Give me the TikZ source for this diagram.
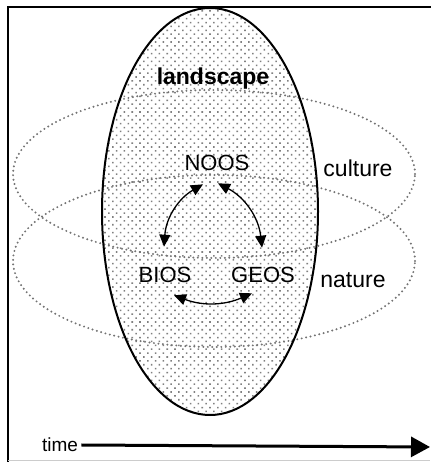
\documentclass[tikz,border=0pt]{standalone}
\usepackage{fontspec}
\setmainfont{Liberation Sans}
\usetikzlibrary{patterns.meta,arrows.meta}

\tikzset{
  sphere/.style={draw=black!55,line width=2.2pt,dash pattern=on 0pt off 4.5pt,line cap=round},
  word/.style={font=\fontsize{23}{27}\selectfont},
  root/.style={font=\fontsize{22}{26}\selectfont},
  link/.style={<->,line width=1.3pt,>={Triangle[length=12pt,width=11pt]}},
}

\begin{document}
\begin{tikzpicture}[x=1pt,y=1pt]
        \useasboundingbox (0,0) rectangle (430,462);
        % landscape body
        \fill [pattern={Dots[distance=5.5pt,angle=45,radius=1.1pt]},pattern color=black!50](210,250.5) ellipse (108 and 203.5);
                % culture and nature rings
                \draw [sphere](214,288) ellipse (201 and 84);
                \draw [sphere](214,201) ellipse (201 and 86);
                \draw [line width=2pt](210,250.5) ellipse (108 and 203.5);

                % frame
                \draw [line width=1.8pt](8,0)--(8,455)--(431,455);
                \draw [gray!40,line width=1pt](8,1)--(430,1);

                \node (landscape) at (213,383) [word]{\bfseries landscape};
                \node (noos) at (217,299) [root]{NOOS};
                \node (bios) at (165,187) [root]{BIOS};
                \node (geos) at (263,187) [root]{GEOS};
                \node (culture) at (358,294) [word]{culture};
                \node (nature) at (353,182) [word]{nature};
                \node (time) at (60,17) [font=\fontsize{19}{23}\selectfont]{time};
                \coordinate (future) at (430,15);

                \draw [link]([shift={(-14,-10)}]noos.south) to[bend right=28] ([shift={(-1,17)}]bios.north);
                \draw [link]([shift={(1,-9)}]noos.south) to[bend left=28] ([shift={(-1,16)}]geos.north);
                \draw [link]([shift={(9,-9)}]bios.south) to[bend right=22] ([shift={(-11,-7)}]geos.south);

                \draw [-{Triangle[length=19pt,width=20pt]},line width=3pt](time.east)--(future);
\end{tikzpicture}
\end{document}
